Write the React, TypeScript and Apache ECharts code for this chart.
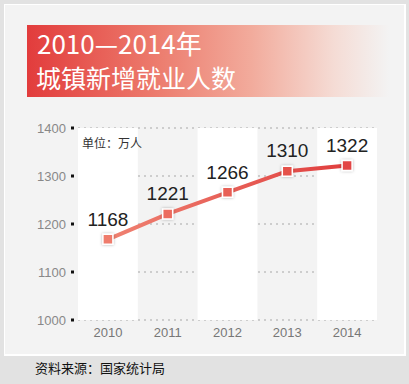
import React, { useEffect, useRef } from "react";
import * as echarts from "echarts";

const categories = ["2010", "2011", "2012", "2013", "2014"];
const values = [1168, 1221, 1266, 1310, 1322];
const yTicks = { min: 1000, max: 1400, interval: 100 };
const titleLine1 = "2010—2014年";
const titleLine2 = "城镇新增就业人数";
const unitText = "单位：万人";
const sourceText = "资料来源：国家统计局";
const markerColors = ["#ef7b6c", "#ec6c5f", "#e85f54", "#e5514a", "#e24444"];

export default function App() {
  const ref = useRef<HTMLDivElement>(null);
  useEffect(() => {
    if (!ref.current) return;
    const chart = echarts.init(ref.current, null, { renderer: "svg" });
    const cjk = "'Noto Sans CJK SC', 'Noto Sans', sans-serif";
    const latin = "'Liberation Sans', Arial, sans-serif";
    chart.setOption({
      animation: false,
      backgroundColor: "#e2e2e2",
      graphic: [
        { type: "rect", z: -10, shape: { x: 4, y: 4, width: 402, height: 352 }, style: { fill: "#ffffff" }, silent: true },
        { type: "rect", z: -9, shape: { x: 5, y: 5, width: 399, height: 349 }, style: { fill: "#f3f3f3" }, silent: true },
        {
          type: "rect",
          z: -8,
          shape: { x: 27, y: 25, width: 362, height: 72 },
          style: {
            fill: new echarts.graphic.LinearGradient(0, 0, 1, 0, [
              { offset: 0, color: "#e23c3c" },
              { offset: 0.35, color: "#ec7a6c" },
              { offset: 0.62, color: "#f2ab9c" },
              { offset: 0.85, color: "#f5dcd5" },
              { offset: 1, color: "#f3f3f3" },
            ]),
          },
          silent: true,
        },
        {
          type: "text",
          left: 37,
          top: 29,
          style: { text: titleLine1, fill: "#ffffff", fontSize: 26, lineHeight: 26, fontFamily: cjk, fontWeight: "normal" },
        },
        {
          type: "text",
          left: 36,
          top: 64,
          style: { text: titleLine2, fill: "#ffffff", fontSize: 25, lineHeight: 25, fontFamily: cjk, fontWeight: "normal" },
        },
        {
          type: "text",
          left: 82,
          top: 136,
          z: 10,
          style: { text: unitText, fill: "#333333", fontSize: 12, fontFamily: cjk },
        },
        {
          type: "text",
          left: 35,
          top: 361,
          style: { text: sourceText, fill: "#111111", fontSize: 13, fontFamily: cjk },
        },
      ],
      grid: { left: 78, right: 32, top: 128, bottom: 64 },
      xAxis: {
        type: "category",
        data: categories,
        boundaryGap: true,
        axisLine: { show: false },
        axisTick: { show: false },
        axisLabel: { color: "#777777", fontSize: 13, margin: 6, fontFamily: latin },
        splitArea: { show: true, areaStyle: { color: ["#ffffff", "rgba(0,0,0,0)"] } },
        splitLine: { show: false },
      },
      yAxis: {
        type: "value",
        min: yTicks.min,
        max: yTicks.max,
        interval: yTicks.interval,
        axisLine: { show: false },
        axisTick: { show: false },
        axisLabel: {
          margin: 4,
          formatter: (v: number) => `{v|${v}}{s| }`,
          rich: {
            v: { color: "#888888", fontSize: 13, fontFamily: latin, padding: [0, 5, 0, 0] },
            s: { width: 3, height: 3, backgroundColor: "#111111", fontSize: 1, lineHeight: 3 },
          },
        },
        splitLine: { show: true, lineStyle: { color: "#cdcdcd", type: [2, 4], width: 2 } },
        splitArea: { show: false },
      },
      series: [
        {
          type: "line",
          data: values.map((v, i) => ({ value: v, itemStyle: { color: markerColors[i] } })),
          symbol: "rect",
          symbolSize: 10,
          lineStyle: {
            width: 4,
            color: new echarts.graphic.LinearGradient(0, 0, 1, 0, [
              { offset: 0, color: "#ef8272" },
              { offset: 1, color: "#e03e3e" },
            ]),
          },
          itemStyle: {
            borderColor: "#ffffff",
            borderWidth: 1.5,
            shadowBlur: 3,
            shadowColor: "rgba(0,0,0,0.3)",
          },
          label: {
            show: true,
            position: "top",
            distance: 5,
            color: "#222222",
            fontSize: 19,
            fontFamily: latin,
          },
        },
      ],
    });
    return () => chart.dispose();
  }, []);
  return (
    <div
      ref={ref}
      style={{ position: "fixed", left: 0, top: 0, width: 409, height: 384 }}
    />
  );
}
